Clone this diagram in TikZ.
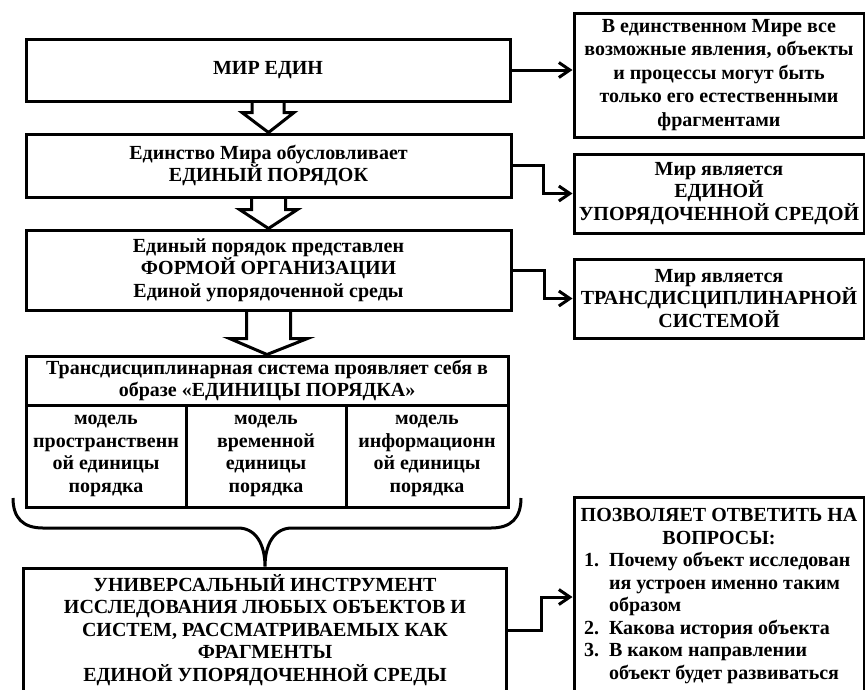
\documentclass[tikz,border=0pt]{standalone}
\usepackage{fontspec}
\setmainfont{Liberation Serif}
\usepackage{tikz}
\usetikzlibrary{arrows.meta, positioning, calc}

\newcommand{\blockarrow}[5]{%
  \draw[hollow] ($(#1.south)+(-#3,0)$) -- ++(0,#5) -- ++({#3-#4},0)
    -- (#2.north) -- ($(#1.south)+(#4,#5)$) -- ++({#3-#4},0) -- ++(0,-#5);
}

\begin{document}
\begin{tikzpicture}[
    x=1pt, y=-1pt,
    box/.style={rectangle, draw, line width=3pt, align=center, inner sep=2pt,
        font=\fontsize{20}{22.5}\selectfont\bfseries},
    side/.style={box, minimum width=290},
    cell/.style={box, minimum width=160, minimum height=102},
    arrow/.style={-{Straight Barb[length=11pt,width=15pt]}, line width=3pt},
    hollow/.style={draw, line width=3pt, line join=miter}
]
\useasboundingbox (0,0) rectangle (865,689);

\node[box, minimum width=484, minimum height=62] (b1) at (268,70) {МИР ЕДИН};
\node[box, minimum width=485, minimum height=63] (b2) at (268.5,165.5) {Единство Мира обусловливает\\ЕДИНЫЙ ПОРЯДОК};
\node[box, minimum width=485, minimum height=80] (b3) at (268.5,270) {Единый порядок представлен\\ФОРМОЙ ОРГАНИЗАЦИИ\\Единой упорядоченной среды};
\node[box, minimum width=482, minimum height=49] (thead) at (267,380.5) {Трансдисциплинарная система проявляет себя в\\образе «ЕДИНИЦЫ ПОРЯДКА»};
\node[cell] (m1) at (106,456) {модель\\пространственн\\ой единицы\\порядка};
\node[cell] (m2) at (266,456) {модель\\временной\\единицы\\порядка};
\node[cell, minimum width=162] (m3) at (427,456) {модель\\информационн\\ой единицы\\порядка};
\node[box, minimum width=483, minimum height=124] (b5) at (265,630) {УНИВЕРСАЛЬНЫЙ ИНСТРУМЕНТ\\ИССЛЕДОВАНИЯ ЛЮБЫХ ОБЪЕКТОВ И\\СИСТЕМ, РАССМАТРИВАЕМЫХ КАК\\ФРАГМЕНТЫ\\ЕДИНОЙ УПОРЯДОЧЕННОЙ СРЕДЫ};

\node[side, minimum height=124, font=\fontsize{20}{23.5}\selectfont\bfseries] (r1) at (719,75) {В единственном Мире все\\возможные явления, объекты\\и процессы могут быть\\только его естественными\\фрагментами};
\node[side, minimum height=79] (r2) at (719,193.5) {Мир является\\ЕДИНОЙ\\УПОРЯДОЧЕННОЙ СРЕДОЙ};
\node[side, minimum height=79] (r3) at (719,298.5) {Мир является\\ТРАНСДИСЦИПЛИНАРНОЙ\\СИСТЕМОЙ};
\node[side, minimum height=200] (r4) at (719,597) {ПОЗВОЛЯЕТ ОТВЕТИТЬ НА\\ВОПРОСЫ:\\
    \makebox[270pt][l]{\begin{tabular}[t]{@{}l@{\hspace{10pt}}l@{}}
    1. & Почему объект исследован\\
       & ия устроен именно таким\\
       & образом\\
    2. & Какова история объекта\\
    3. & В каком направлении\\
       & объект будет развиваться
    \end{tabular}}};

\blockarrow{b1}{b2}{16}{26}{10}
\blockarrow{b2}{b3}{17}{29}{11}
\blockarrow{b3}{thead}{22}{39}{27}

\draw[line width=3pt] (13,498) .. controls (13,518) and (23,528) .. (43,528) -- (238,528)
    .. controls (256,528) and ($(b5.north)+(0,-22)$) .. (b5.north)
    .. controls ($(b5.north)+(0,-22)$) and (274,528) .. (292,528) -- (491,528)
    .. controls (511,528) and (521,518) .. (521,498);

\draw[arrow] (b1.east) -- (b1.east -| r1.west);
\draw[arrow] (b2.east) -- ++(31,0) |- (r2.west);
\draw[arrow] (b3.east) -- ++(32,0) |- (r3.west);
\draw[arrow] (b5.east) -- ++(33,0) |- (r4.west);

\end{tikzpicture}
\end{document}
